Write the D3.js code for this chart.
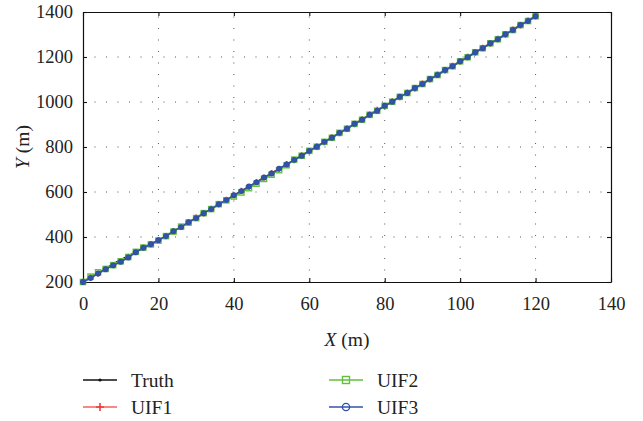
<!DOCTYPE html>
<html>
<head>
<meta charset="utf-8">
<script src="https://cdn.jsdelivr.net/npm/d3@7"></script>
<style>
body { margin: 0; background: #fff; }
text { font-family: "Liberation Serif", "DejaVu Serif", serif; fill: #222; }
</style>
</head>
<body>
<script>

// x positions (m), one sample every 2 m
var xs = [0,2,4,6,8,10,12,14,16,18,20,22,24,26,28,30,32,34,36,38,40,42,44,46,48,50,
          52,54,56,58,60,62,64,66,68,70,72,74,76,78,80,82,84,86,88,90,92,94,96,98,100,
          102,104,106,108,110,112,114,116,118,120];

var truth = [200,219,239,260,281,300,317,334,351,368,385,405,425,445,465,485,505,525,545,565,585,
             605,624,644,664,683,703,723,742,762,782,802,822,842,862,882,902,922,942,962,982,
             1002,1022,1041,1061,1081,1101,1121,1141,1160,1180,1200,1220,1240,1260,1280,1300,1321,1341,1361,1381];

var uif1 = [200,221,237,258,276,293,312,333,352,369,386,403,426,444,466,487,503,526,544,566,584,
            606,622,645,663,685,702,724,741,763,781,803,821,843,861,883,901,923,944,966,980,
            1003,1021,1042,1060,1082,1100,1122,1140,1161,1179,1201,1219,1241,1259,1281,1299,1322,1340,1362,1381];

var uif2 = [200,224,243,258,275,292,311,334,353,367,384,404,424,446,464,484,506,524,546,563,580,
            598,617,637,658,677,697,719,744,761,783,801,823,841,863,881,903,921,943,961,983,
            1001,1023,1040,1062,1080,1102,1120,1142,1159,1181,1199,1221,1239,1261,1279,1301,1320,1342,1360,1381];

var uif3 = [200,218,238,257,274,290,309,332,352,368,386,404,426,444,466,484,506,524,546,564,586,
            604,625,643,665,682,704,722,743,761,783,801,823,841,863,881,903,921,943,961,983,
            1001,1023,1040,1062,1080,1102,1120,1142,1159,1181,1199,1221,1239,1261,1279,1301,1320,1342,1360,1381];

var xTicks = [0,20,40,60,80,100,120,140];
var yTicks = [200,400,600,800,1000,1200,1400];

var seriesNames = ["Truth","UIF1","UIF2","UIF3"];
var seriesColors = {"Truth":"#111111","UIF1":"#f03a3a","UIF2":"#62c03c","UIF3":"#3553a8"};
var seriesData = {"Truth":truth,"UIF1":uif1,"UIF2":uif2,"UIF3":uif3};

var W = 643, H = 421;
var pLeft = 83, pRight = 611, pTop = 12, pBottom = 282;

var svg = d3.select("body").append("svg")
            .attr("width", W)
            .attr("height", H);

var x = d3.scaleLinear().domain([0,140]).range([pLeft,pRight]);
var y = d3.scaleLinear().domain([200,1400]).range([pBottom,pTop]);

// dotted grid
var grid = svg.append("g");
grid.selectAll("line.gx")
    .data(xTicks.slice(1,-1))
    .enter().append("line")
    .attr("x1", function(d){return x(d);})
    .attr("x2", function(d){return x(d);})
    .attr("y1", pBottom).attr("y2", pTop)
    .attr("stroke","#555").attr("stroke-width",1)
    .attr("stroke-dasharray","1,10.5");
grid.selectAll("line.gy")
    .data(yTicks.slice(1,-1))
    .enter().append("line")
    .attr("y1", function(d){return y(d);})
    .attr("y2", function(d){return y(d);})
    .attr("x1", pLeft).attr("x2", pRight)
    .attr("stroke","#555").attr("stroke-width",1)
    .attr("stroke-dasharray","1,10.5");

// axes with inner ticks
var fmt = d3.format("d");
var xAxisB = d3.axisBottom(x).tickValues(xTicks).tickFormat(fmt).tickSizeInner(-4).tickSizeOuter(0).tickPadding(15);
var xAxisT = d3.axisTop(x).tickValues(xTicks).tickSizeInner(-4).tickSizeOuter(0).tickFormat("");
var yAxisL = d3.axisLeft(y).tickValues(yTicks).tickFormat(fmt).tickSizeInner(-4).tickSizeOuter(0).tickPadding(10);
var yAxisR = d3.axisRight(y).tickValues(yTicks).tickSizeInner(-4).tickSizeOuter(0).tickFormat("");

function styleAxis(g){
  g.select(".domain").attr("stroke","#111").attr("stroke-width",1.2);
  g.selectAll(".tick line").attr("stroke","#111").attr("stroke-width",1.1);
  g.selectAll(".tick text")
   .style("font-family","'Liberation Serif','DejaVu Serif',serif")
   .style("font-size","18.5px").attr("fill","#222");
}

svg.append("g").attr("transform","translate(0,"+pBottom+")").call(xAxisB).call(styleAxis);
svg.append("g").attr("transform","translate(0,"+pTop+")").call(xAxisT).call(styleAxis);
svg.append("g").attr("transform","translate("+pLeft+",0)").call(yAxisL).call(styleAxis);
svg.append("g").attr("transform","translate("+pRight+",0)").call(yAxisR).call(styleAxis);

// axis titles
var xl = svg.append("text")
   .attr("x", 347).attr("y", 346)
   .attr("text-anchor","middle")
   .style("font-size","19.5px");
xl.append("tspan").style("font-style","italic").text("X");
xl.append("tspan").text(" (m)");

var yl = svg.append("text")
   .attr("transform","translate(29,"+((pTop+pBottom)/2)+") rotate(-90)")
   .attr("text-anchor","middle")
   .style("font-size","19.5px");
yl.append("tspan").style("font-style","italic").text("Y");
yl.append("tspan").text(" (m)");

// markers
function drawMarker(g, name, cx, cy, big){
  var c = seriesColors[name];
  var s = big ? 1.35 : 1;
  if(name=="Truth"){
    g.append("circle").attr("cx",cx).attr("cy",cy).attr("r",1.2*s).attr("fill",c);
  } else if(name=="UIF1"){
    g.append("path")
     .attr("d","M"+(cx-3*s)+","+cy+"H"+(cx+3*s)+"M"+cx+","+(cy-3*s)+"V"+(cy+3*s))
     .attr("stroke",c).attr("stroke-width",1.6);
  } else if(name=="UIF2"){
    g.append("rect").attr("x",cx-2.6*s).attr("y",cy-2.6*s)
     .attr("width",5.2*s).attr("height",5.2*s)
     .attr("fill","none").attr("stroke",c).attr("stroke-width",1.4);
  } else {
    g.append("circle").attr("cx",cx).attr("cy",cy).attr("r", big ? 3.6 : 2.3)
     .attr("fill", big ? "none" : c).attr("stroke","#2e4fa6").attr("stroke-width",1.3);
  }
}

var line = d3.line()
   .x(function(d){return x(d[0]);})
   .y(function(d){return y(d[1]);});

var plot = svg.append("g");
var drawOrder = ["Truth","UIF1","UIF2","UIF3"];
drawOrder.forEach(function(name){
  var pts = xs.map(function(v,i){return [v, seriesData[name][i]];});
  var g = plot.append("g");
  g.append("path")
   .datum(pts)
   .attr("d", line)
   .attr("fill","none")
   .attr("stroke", seriesColors[name])
   .attr("stroke-width", name=="Truth" ? 1.2 : 1.6);
  pts.forEach(function(p){ drawMarker(g, name, x(p[0]), y(p[1]), false); });
});

// legend
var legendPos = [[83,380],[83,407],[329,380],[329,407]];
var leg = svg.append("g");
seriesNames.forEach(function(name,i){
  var lx = legendPos[i][0], ly = legendPos[i][1];
  var g = leg.append("g");
  g.append("line").attr("x1",lx).attr("x2",lx+34).attr("y1",ly).attr("y2",ly)
   .attr("stroke",seriesColors[name]).attr("stroke-width", name=="Truth" ? 1.4 : 1.6)
   .attr("stroke-opacity", name=="UIF1" ? 0.8 : 1);
  drawMarker(g, name, lx+17, ly, true);
  g.append("text").attr("x",lx+48).attr("y",ly+7)
   .style("font-size","19.5px").text(name);
});

</script>
</body>
</html>
